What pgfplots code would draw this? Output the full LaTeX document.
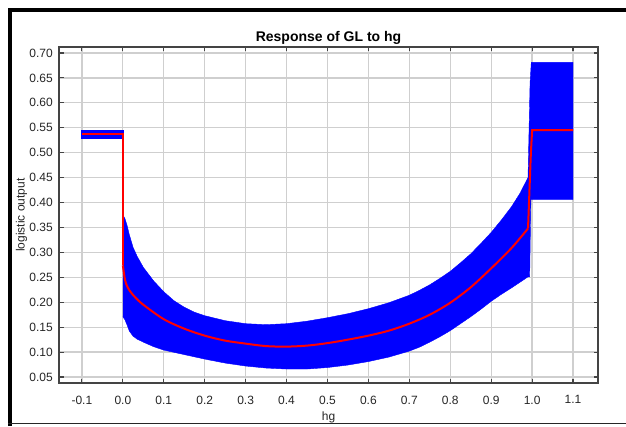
\documentclass[border=0pt]{standalone}
\usepackage{fontspec}
\setmainfont{Liberation Sans}
\usepackage{pgfplots}
\pgfplotsset{compat=1.18}
\definecolor{gridgray}{HTML}{CFCFCF}
\definecolor{axgray}{HTML}{444444}
\begin{document}
\begin{tikzpicture}[x=1pt,y=1pt]
\useasboundingbox (0,0) rectangle (626,426);
\fill[white] (0,0) rectangle (626,426);
\draw[black, line width=3.6pt] (10,0) -- (10,415.8) -- (630,415.8);
\draw[black!85, line width=1.6pt] (8,2.4) -- (630,2.4);
\begin{axis}[
  at={(59pt,43pt)}, anchor=south west, scale only axis,
  width=539pt, height=336pt,
  xmin=-0.156, xmax=1.161, ymin=0.038, ymax=0.712,
  xtick={-0.1,0,0.1,0.2,0.3,0.4,0.5,0.6,0.7,0.8,0.9,1.0,1.1},
  ytick={0.05,0.10,0.15,0.20,0.25,0.30,0.35,0.40,0.45,0.50,0.55,0.60,0.65,0.70},
  /pgf/number format/assume math mode=true,
  xticklabel style={/pgf/number format/fixed, /pgf/number format/fixed zerofill, /pgf/number format/precision=1, anchor=north, inner sep=0pt, yshift=-12.5pt},
  yticklabel style={/pgf/number format/fixed, /pgf/number format/fixed zerofill, /pgf/number format/precision=2, anchor=east, inner sep=0pt, xshift=-6pt},
  tick label style={font=\fontsize{12}{13}\selectfont, text=black!85},
  grid=major,
  major grid style={gridgray, line width=1.3pt},
  axis line style={axgray, line width=1.2pt},
  tick align=inside, major tick length=4.5pt,
  tick style={axgray, line width=1.1pt},
  xtick pos=both, ytick pos=both,
  title={Response of GL to hg},
  title style={font=\fontsize{14}{16}\selectfont\bfseries, at={(axis description cs:0.5,1)}, anchor=base, yshift=-0.5pt},
  xlabel={hg},
  xlabel style={font=\fontsize{12}{13}\selectfont, text=black!85, at={(axis description cs:0.5,0)}, anchor=base, yshift=-37pt},
  ylabel={logistic output},
  ylabel style={font=\fontsize{12}{13}\selectfont, text=black!85, at={(axis description cs:-0.0696,0.5)}, anchor=center},
]
% left block
\addplot[fill=blue, draw=blue, line width=0.4pt] coordinates {
  (-0.101,0.527) (-0.101,0.545) (0.0,0.545) (0.0,0.527)
};
% main band: upper edge, right block, lower edge reversed
\addplot[fill=blue, draw=blue, line width=0.4pt] coordinates {
  (0.000,0.375) (0.005,0.368) (0.010,0.355) (0.016,0.335) (0.025,0.310)
  (0.035,0.292) (0.050,0.270) (0.075,0.243) (0.100,0.221) (0.125,0.203)
  (0.150,0.190) (0.175,0.180) (0.200,0.173) (0.250,0.163) (0.300,0.157)
  (0.350,0.155) (0.400,0.157) (0.450,0.162) (0.500,0.169) (0.550,0.177)
  (0.600,0.187) (0.650,0.199) (0.700,0.214) (0.725,0.224) (0.750,0.235)
  (0.775,0.248) (0.800,0.262) (0.825,0.279) (0.850,0.297) (0.875,0.318)
  (0.900,0.340) (0.925,0.365) (0.950,0.392) (0.970,0.418) (0.990,0.450)
  (0.995,0.64) (0.998,0.681)
  (1.1,0.681) (1.1,0.406) (1.001,0.406) (0.997,0.406) (0.994,0.251)
  (0.990,0.251) (0.970,0.240) (0.950,0.229) (0.925,0.216) (0.900,0.202)
  (0.875,0.186) (0.850,0.171) (0.825,0.157) (0.800,0.143) (0.775,0.131)
  (0.750,0.120) (0.725,0.110) (0.700,0.102) (0.650,0.090) (0.600,0.081)
  (0.550,0.074) (0.500,0.069) (0.450,0.066) (0.400,0.066) (0.350,0.068)
  (0.300,0.072) (0.250,0.078) (0.200,0.086) (0.150,0.095) (0.100,0.104)
  (0.075,0.111) (0.050,0.120) (0.035,0.126) (0.025,0.132) (0.016,0.142)
  (0.010,0.155) (0.005,0.165) (0.000,0.171)
};
% mean response
\addplot[red, line width=2pt] coordinates {
  (-0.1,0.537) (0.0,0.537) (0.0,0.274)
};
\addplot[red, line width=2pt, smooth, tension=0.5] coordinates {
  (0.0,0.274) (0.004,0.251) (0.008,0.237)
  (0.016,0.224) (0.03,0.210) (0.05,0.195) (0.1,0.166) (0.15,0.147)
  (0.2,0.133) (0.25,0.123) (0.3,0.117) (0.35,0.112) (0.4,0.111)
  (0.45,0.113) (0.5,0.118) (0.55,0.125) (0.6,0.133) (0.65,0.143)
  (0.7,0.157) (0.75,0.175) (0.8,0.199) (0.85,0.230) (0.9,0.268)
  (0.95,0.309) (0.99,0.348)
};
\addplot[red, line width=2pt] coordinates {
  (0.99,0.348) (0.997,0.50) (1.0,0.545) (1.1,0.545)
};
\end{axis}
\end{tikzpicture}
\end{document}
